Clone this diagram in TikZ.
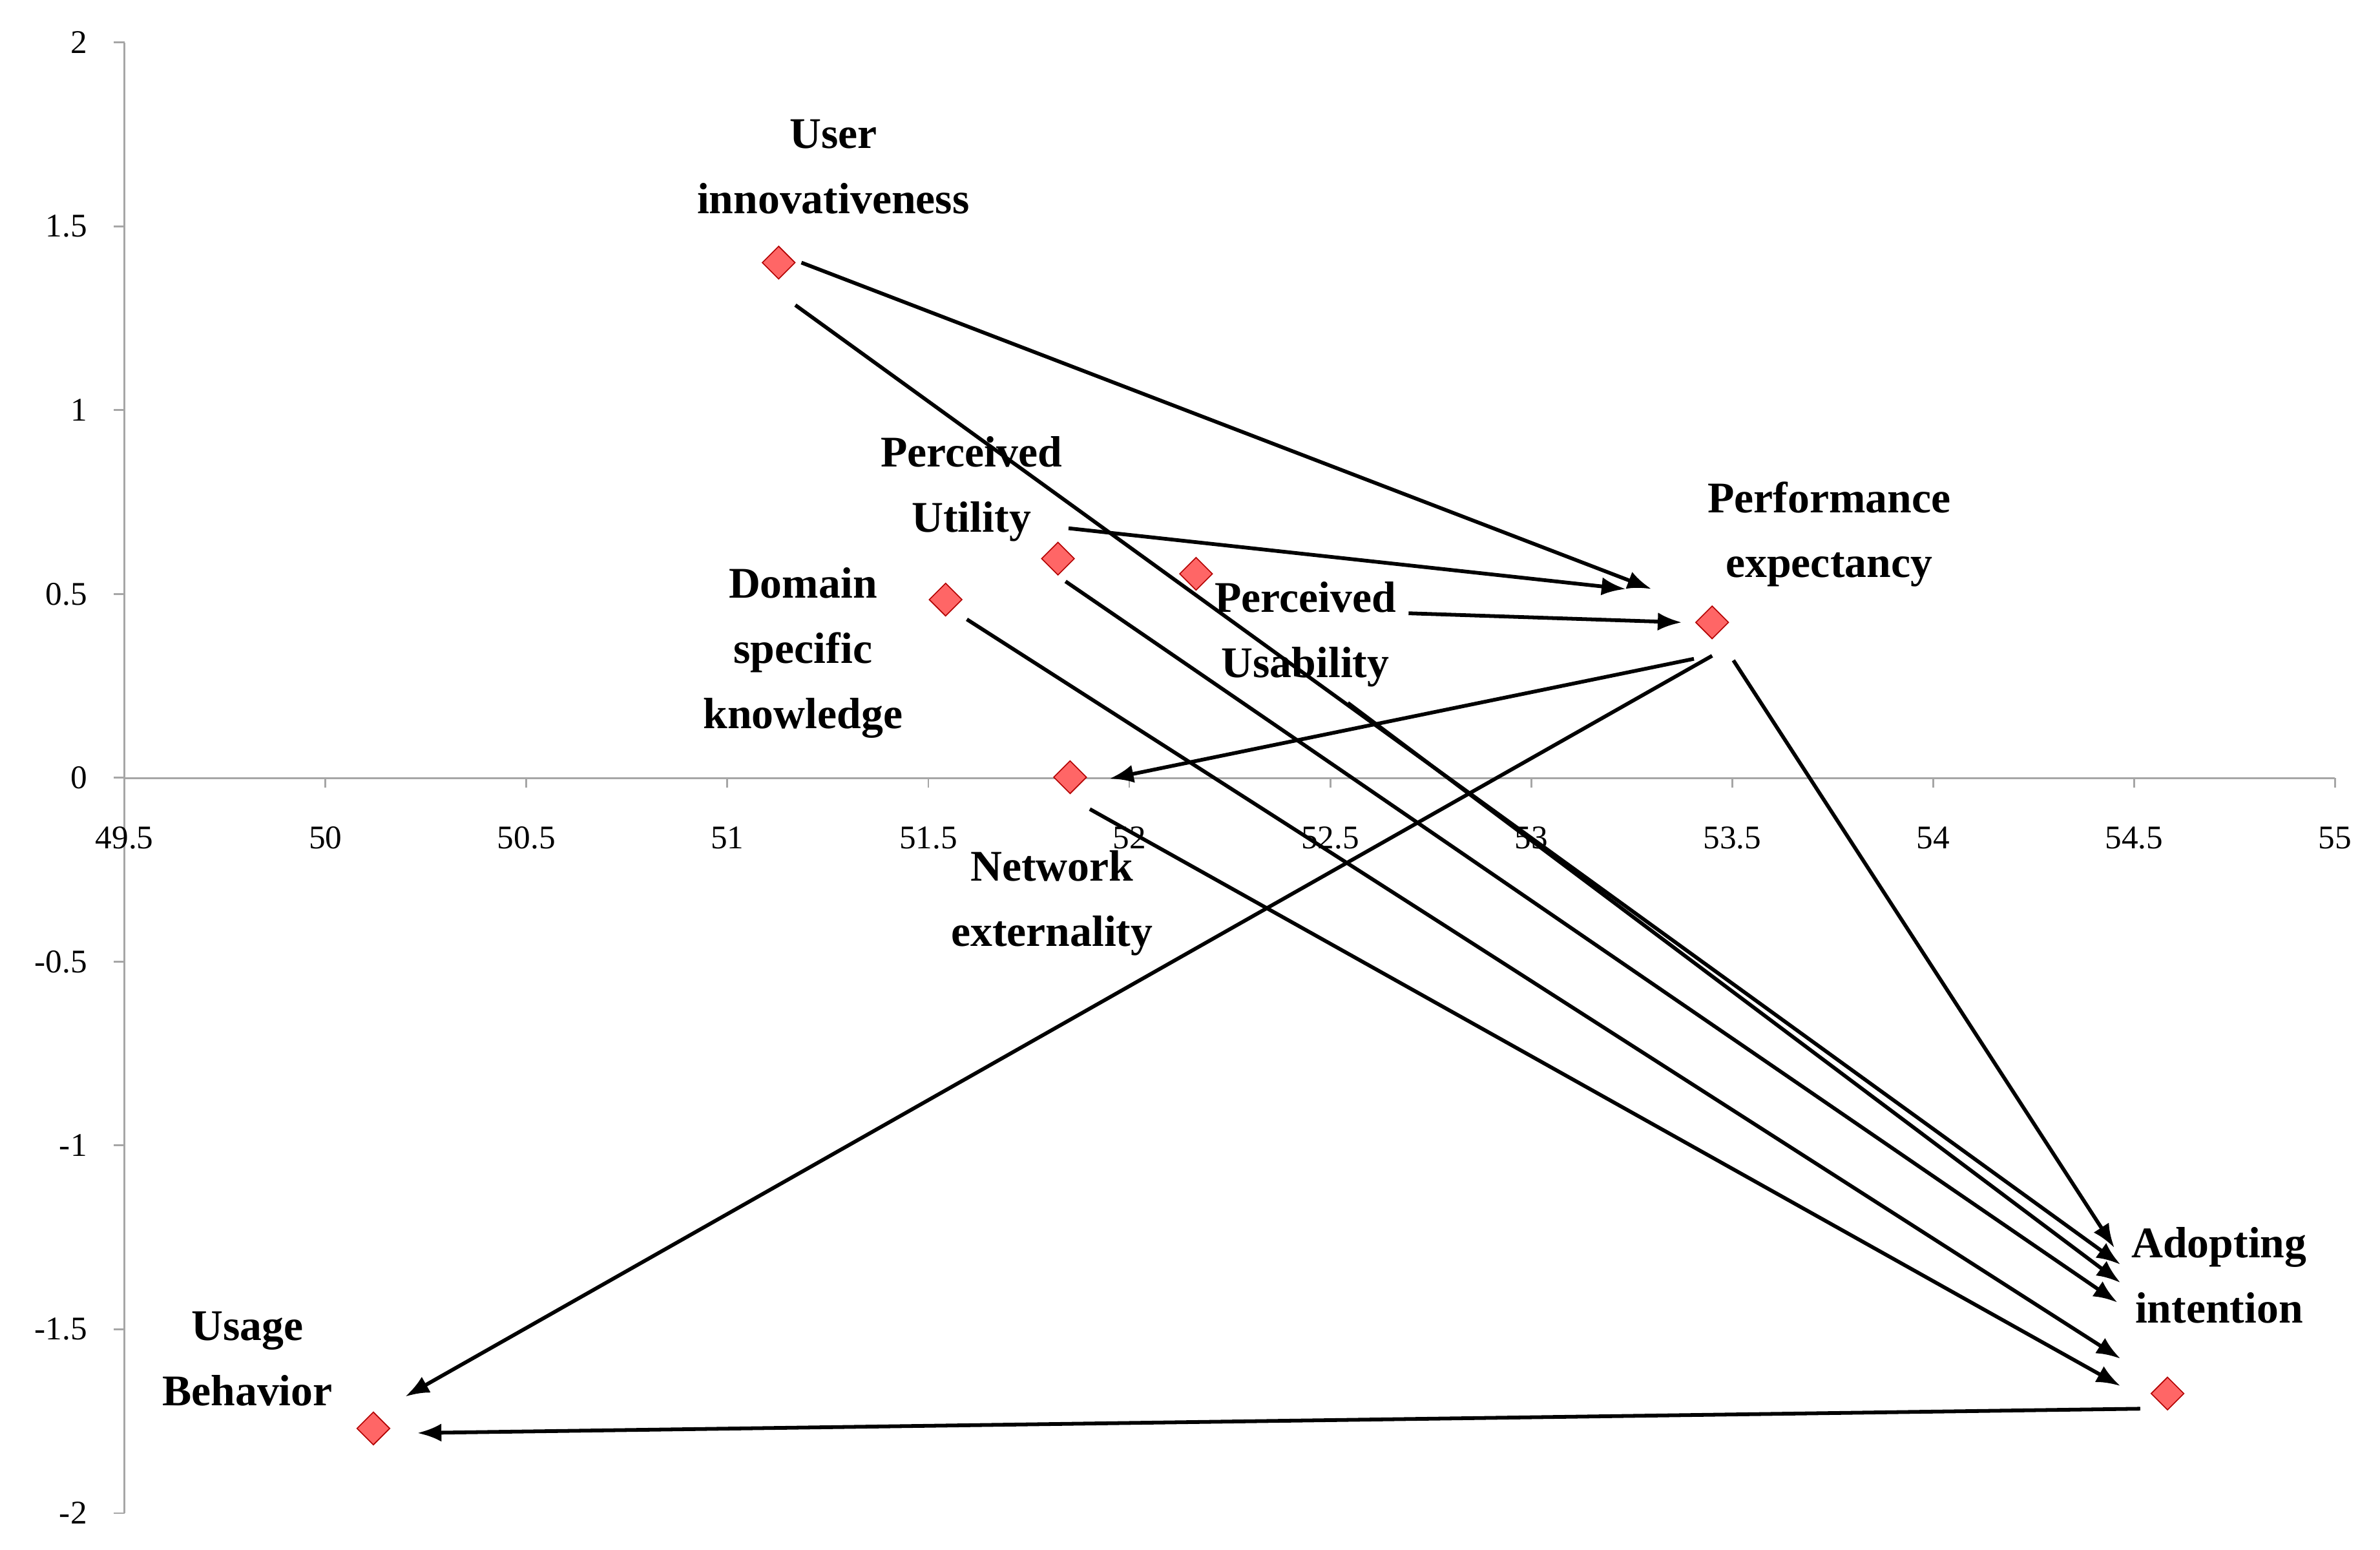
\documentclass[tikz,border=0pt]{standalone}
\usepackage{fontspec}
\setmainfont{Liberation Serif}
\usetikzlibrary{arrows.meta,shapes.geometric}
\begin{document}
\begin{tikzpicture}[x=0.01cm,y=-0.01cm,
 lab/.style={font=\bfseries\fontsize{8.2}{12.2}\selectfont,align=center},
 tick/.style={font=\fontsize{6.2}{7}\selectfont},
 ax/.style={draw=gray!70,line width=0.35pt},
 pt/.style={diamond,fill=red!60!white,draw=red!70!black,line width=0.2pt,inner sep=0pt,minimum size=6.2pt},
 arr/.style={-{Latex[length=4.5pt,width=3.4pt]},line width=0.7pt}]
\useasboundingbox (0,0) rectangle (1568,1021);
% axes
\draw[ax] (82,28) -- (82,997);
\draw[ax] (82,512.5) -- (1538,512.5);
\foreach \i/\t in {0/2,1/1.5,2/1,3/0.5,4/0,5/-0.5,6/-1,7/-1.5,8/-2}{
  \pgfmathsetmacro\yy{28+121.1*\i}
  \draw[ax] (75,\yy) -- (82,\yy);
  \node[tick,anchor=east,inner sep=0pt] at (58,\yy) {\t};}
\foreach \i/\t in {0/49.5,1/50,2/50.5,3/51,4/51.5,5/52,6/52.5,7/53,8/53.5,9/54,10/54.5,11/55}{
  \pgfmathsetmacro\xx{82+132.4*\i}
  \draw[ax] (\xx,512.5) -- (\xx,519);
  \node[tick] at (\xx,552) {\t};}
% points
\node[pt] (ui) at (513,173) {};
\node[pt] (pu) at (697,368) {};
\node[pt] (pus) at (788,378) {};
\node[pt] (dk) at (623,395) {};
\node[pt] (ne) at (705,512) {};
\node[pt] (pe) at (1128,410) {};
\node[pt] (ai) at (1428,918) {};
\node[pt] (ub) at (246,941) {};
% labels
\node[lab] (lui) at (549,110) {User\\innovativeness};
\node[lab] (lpu) at (640,322) {Perceived\\Utility};
\node[lab] (ldk) at (529,430) {Domain\\specific\\knowledge};
\node[lab] (lpe) at (1205,352) {Performance\\expectancy};
\node[lab] (lpus) at (860,418) {Perceived\\Usability};
\node[lab] (lne) at (693,595) {Network\\externality};
\node[lab] (lai) at (1462,840) {Adopting\\intention};
\node[lab] (lub) at (163,895) {Usage\\Behavior};
% arrow endpoints
\coordinate (a1) at (528,173); \coordinate (b1) at (1088,388);
\coordinate (a2) at (524,201); \coordinate (b2) at (1397,833);
\coordinate (a3) at (704,348); \coordinate (b3) at (1071,388);
\coordinate (a4) at (928,404); \coordinate (b4) at (1108,410);
\coordinate (a5) at (1116,434); \coordinate (b5) at (731,513);
\coordinate (a6) at (1128,432); \coordinate (b6) at (267,920);
\coordinate (a7) at (1142,435); \coordinate (b7) at (1393,822);
\coordinate (a8) at (702,383); \coordinate (b8) at (1395,858);
\coordinate (a9) at (888,463); \coordinate (b9) at (1397,845);
\coordinate (a10) at (637,408); \coordinate (b10) at (1397,895);
\coordinate (a11) at (718,533); \coordinate (b11) at (1397,913);
\coordinate (a12) at (1410,928); \coordinate (b12) at (275,944);
\foreach \k in {1,...,12}{\draw[arr] (a\k) -- (b\k);}
\end{tikzpicture}
\end{document}
